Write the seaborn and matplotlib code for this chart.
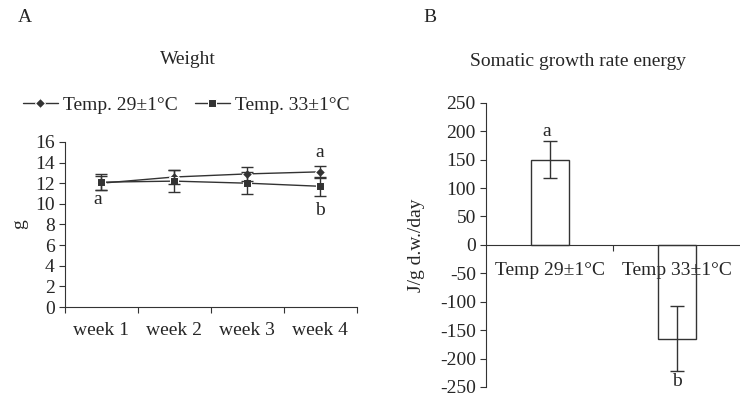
import numpy as np
import pandas as pd
import seaborn as sns
import matplotlib.pyplot as plt

# data
weeks = ['week 1', 'week 2', 'week 3', 'week 4']
w29 = [12.0, 12.6, 12.9, 13.1]
w29_err = [0.7, 0.7, 0.65, 0.55]
w33 = [12.1, 12.2, 12.0, 11.7]
w33_err = [0.75, 1.05, 1.05, 0.9]
series = ['Temp. 29±1°C', 'Temp. 33±1°C']

groups = ['Temp 29±1°C', 'Temp 33±1°C']
sgr = [150, -165]
sgr_err = [32, 57]

sns.set_style('ticks')
plt.rcParams['font.family'] = ['Liberation Serif', 'DejaVu Serif']
plt.rcParams['font.size'] = 14
plt.rcParams['axes.unicode_minus'] = False
ink = '#333333'

fig = plt.figure(figsize=(7.4, 3.94), dpi=100)
ax1 = fig.add_axes([0.0878, 0.2208, 0.394, 0.419])
ax2 = fig.add_axes([0.657, 0.018, 0.343, 0.721])

# ---- panel A: weight
df = pd.DataFrame({'week': weeks * 2,
                   'g': w29 + w33,
                   'temp': [series[0]] * 4 + [series[1]] * 4})
sns.lineplot(data=df, x='week', y='g', hue='temp', style='temp',
             palette=[ink, ink], markers=['D', 's'], dashes=False,
             markersize=5.5, linewidth=1, ax=ax1)
xs = np.arange(len(weeks))
ax1.errorbar(xs, w29, yerr=w29_err, fmt='none', ecolor=ink, elinewidth=1, capsize=4, capthick=1)
ax1.errorbar(xs, w33, yerr=w33_err, fmt='none', ecolor=ink, elinewidth=1, capsize=4, capthick=1)

ax1.set_xlim(-0.5, 3.5)
ax1.set_ylim(0, 16)
ax1.set_yticks(range(0, 17, 2))
ax1.set_xticks(np.arange(-0.5, 4, 1))
ax1.set_xticklabels([])
ax1.set_xticks(xs, minor=True)
ax1.set_xticklabels(weeks, minor=True)
ax1.tick_params(axis='x', which='minor', length=0, pad=11)
ax1.tick_params(axis='both', which='major', length=4, color=ink)
ax1.set_xlabel('')
ax1.set_ylabel('g')
ax1.yaxis.set_label_coords(-0.125, 0.5)
sns.despine(ax=ax1)
for s in ['left', 'bottom']:
    ax1.spines[s].set_color(ink)

ax1.text(-0.05, 10.4, 'a', ha='center', va='center')
ax1.text(3, 15.0, 'a', ha='center', va='center')
ax1.text(3, 9.4, 'b', ha='center', va='center')

h, l = ax1.get_legend_handles_labels()
ax1.legend(h, l, loc='center', bbox_to_anchor=(0.415, 1.225), ncol=2,
           frameon=False, handlelength=1.8, handletextpad=0.25, columnspacing=0.9)

# ---- panel B: somatic growth rate energy
sns.barplot(x=groups, y=sgr, fill=False, color=ink, linewidth=1,
            width=0.3, ax=ax2)
ax2.errorbar(np.arange(2), sgr, yerr=sgr_err, fmt='none', ecolor=ink,
             elinewidth=1, capsize=5, capthick=1)
ax2.set_xlim(-0.5, 1.5)
ax2.set_ylim(-250, 250)
ax2.set_yticks(range(-250, 251, 50))
ax2.spines['bottom'].set_position(('data', 0))
ax2.set_xticks([0.5])
ax2.set_xticklabels([])
ax2.set_xticks([0, 1], minor=True)
ax2.set_xticklabels(groups, minor=True)
ax2.tick_params(axis='x', which='minor', length=0, pad=12)
ax2.tick_params(axis='both', which='major', length=4, color=ink)
ax2.set_ylabel('J/g d.w./day')
ax2.yaxis.set_label_coords(-0.24, 0.5)
sns.despine(ax=ax2)
for s in ['left', 'bottom']:
    ax2.spines[s].set_color(ink)
ax2.text(-0.02, 200, 'a', ha='center', va='center')
ax2.text(1.0, -240, 'b', ha='center', va='center')

# panel letters and titles
fig.text(18 / 740, 1 - 18 / 394, 'A', va='center')
fig.text(423 / 740, 1 - 18 / 394, 'B', va='center')
fig.text(188 / 740, 1 - 60 / 394, 'Weight', ha='center', va='center')
fig.text(578 / 740, 1 - 62 / 394, 'Somatic growth rate energy', ha='center', va='center')

fig.savefig('out.png', dpi=100)
